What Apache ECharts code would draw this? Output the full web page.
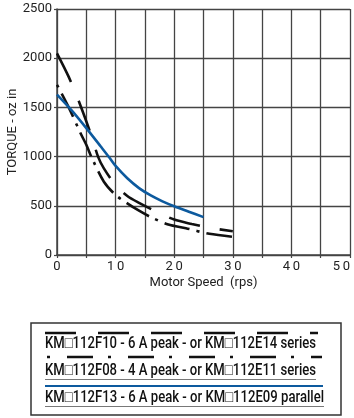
<!DOCTYPE html>
<html>
<head>
<meta charset="utf-8">
<script src="https://cdn.jsdelivr.net/npm/echarts@6/dist/echarts.min.js"></script>
<style>
html,body{margin:0;padding:0;background:#fff;}
#chart{width:354px;height:418px;}
</style>
</head>
<body>
<div id="chart"></div>
<script>
// Tick labels
var xTickLabels = [0, 10, 20, 30, 40, 50];
var yTickLabels = [0, 500, 1000, 1500, 2000, 2500];

// KM□112F10 - 6 A peak (series) : long dash
var speedF10 = [0, 2, 4, 6, 7, 8, 10, 12, 14, 17, 20, 23, 26, 30];
var torqueF10 = [2050, 1810, 1520, 1190, 1000, 880, 710, 600, 530, 440, 360, 315, 277, 242];

// KM□112F08 - 4 A peak (series) : solid blue
var speedF08 = [0, 2.5, 5, 7.5, 9, 10, 12, 14, 16, 18, 20, 22.5, 25];
var torqueF08 = [1630, 1470, 1290, 1100, 985, 905, 780, 680, 605, 545, 495, 440, 385];

// KM□112F13 - 6 A peak (parallel) : dash-dot
var speedF13 = [0, 2, 4, 5, 6, 8, 10, 12, 14, 16, 19, 22, 26, 30];
var torqueF13 = [1730, 1500, 1240, 1120, 980, 745, 610, 525, 450, 385, 310, 272, 215, 185];

var legendLabels = [
  'KM\u25A1112F10 - 6 A peak - or KM\u25A1112E14 series',
  'KM\u25A1112F08 - 4 A peak - or KM\u25A1112E11 series',
  'KM\u25A1112F13 - 6 A peak - or KM\u25A1112E09 parallel'
];

function pairs(xs, ys) { return xs.map(function (x, i) { return [x, ys[i]]; }); }

var FONT = 'Roboto, "Liberation Sans", sans-serif';
var LFONT = '500 16px Roboto, "Liberation Sans", sans-serif';
var BLUE = '#0d5a9e';

// horizontal condensing factor for legend text so each line spans the reference width
var mctx = document.createElement('canvas').getContext('2d');
mctx.font = LFONT;
function squeeze(txt, target) { return target / mctx.measureText(txt).width; }
var sx0 = squeeze(legendLabels[0], 271);
var sx1 = squeeze(legendLabels[1], 271);
var sx2 = squeeze(legendLabels[2], 279);

var chart = echarts.init(document.getElementById('chart'), null, {renderer: 'canvas'});
chart.setOption({
  animation: false,
  backgroundColor: '#fff',
  grid: {left: 57, top: 9, width: 293, height: 246, containLabel: false, outerBoundsMode: 'none'},
  xAxis: {
    type: 'value', min: 0, max: 50, interval: 5,
    name: 'Motor Speed  (rps)', nameLocation: 'middle', nameGap: 21, nameMoveOverlap: false,
    nameTextStyle: {fontFamily: FONT, fontSize: 13, color: '#222'},
    axisLine: {show: true, lineStyle: {color: '#444', width: 1.5}},
    axisTick: {show: true, length: 3, lineStyle: {color: '#444', width: 1.2}},
    axisLabel: {
      fontFamily: FONT, fontSize: 13, color: '#222', margin: 5, alignMaxLabel: 'right',
      formatter: function (v) {
        return xTickLabels.indexOf(v) >= 0 ? String(v).split('').join('\u2009') : '';
      }
    },
    splitLine: {show: true, lineStyle: {color: '#444', width: 1.3}}
  },
  yAxis: {
    type: 'value', min: 0, max: 2500, interval: 500,
    name: 'TORQUE - oz in', nameLocation: 'middle', nameGap: 38, nameMoveOverlap: false,
    nameTextStyle: {fontFamily: FONT, fontSize: 13, color: '#222'},
    axisLine: {show: true, lineStyle: {color: '#444', width: 1.5}},
    axisTick: {show: true, length: 3, lineStyle: {color: '#444', width: 1.2}},
    axisLabel: {
      fontFamily: FONT, fontSize: 13, color: '#222', margin: 5,
      formatter: function (v) { return yTickLabels.indexOf(v) >= 0 ? String(v) : ''; }
    },
    splitLine: {show: true, lineStyle: {color: '#444', width: 1.3}}
  },
  series: [
    {
      type: 'line', data: pairs(speedF10, torqueF10), smooth: 0.3, symbol: 'none',
      lineStyle: {color: '#111', width: 2.6, type: [32, 20], cap: 'butt'}, z: 3
    },
    {
      type: 'line', data: pairs(speedF13, torqueF13), smooth: 0.3, symbol: 'none',
      lineStyle: {color: '#111', width: 2.6, type: [3, 7, 26, 7], dashOffset: 0, cap: 'butt'}, z: 3
    },
    {
      type: 'line', data: pairs(speedF08, torqueF08), smooth: 0.3, symbol: 'none',
      lineStyle: {color: BLUE, width: 2.6}, z: 4
    }
  ],
  graphic: [
    {type: 'rect', shape: {x: 31, y: 323, width: 310, height: 92},
     style: {fill: '#fff', stroke: '#333', lineWidth: 1.5}, z: 10},
    // long dash sample
    {type: 'line', shape: {x1: 45, y1: 333, x2: 318, y2: 333},
     style: {stroke: '#111', lineWidth: 2.5, lineDash: [31, 22]}, z: 11},
    {type: 'text', x: 45, y: 352, scaleX: sx0, style: {text: legendLabels[0], font: LFONT, fill: '#111', textVerticalAlign: 'bottom'}, z: 11},
    // dash-dot sample
    {type: 'line', shape: {x1: 47, y1: 357, x2: 322, y2: 357},
     style: {stroke: '#111', lineWidth: 2.5, lineDash: [3, 17, 26, 15]}, z: 11},
    {type: 'text', x: 45, y: 379, scaleX: sx1, style: {text: legendLabels[1], font: LFONT, fill: '#111', textVerticalAlign: 'bottom'}, z: 11},
    {type: 'line', shape: {x1: 45, y1: 379.5, x2: 316, y2: 379.5}, style: {stroke: '#555', lineWidth: 0.8}, z: 11},
    {type: 'line', shape: {x1: 45, y1: 386, x2: 323, y2: 386}, style: {stroke: BLUE, lineWidth: 2.2}, z: 11},
    {type: 'text', x: 45, y: 406, scaleX: sx2, style: {text: legendLabels[2], font: LFONT, fill: '#111', textVerticalAlign: 'bottom'}, z: 11},
    {type: 'line', shape: {x1: 45, y1: 406.5, x2: 324, y2: 406.5}, style: {stroke: '#555', lineWidth: 0.8}, z: 11}
  ]
});
</script>
</body>
</html>
